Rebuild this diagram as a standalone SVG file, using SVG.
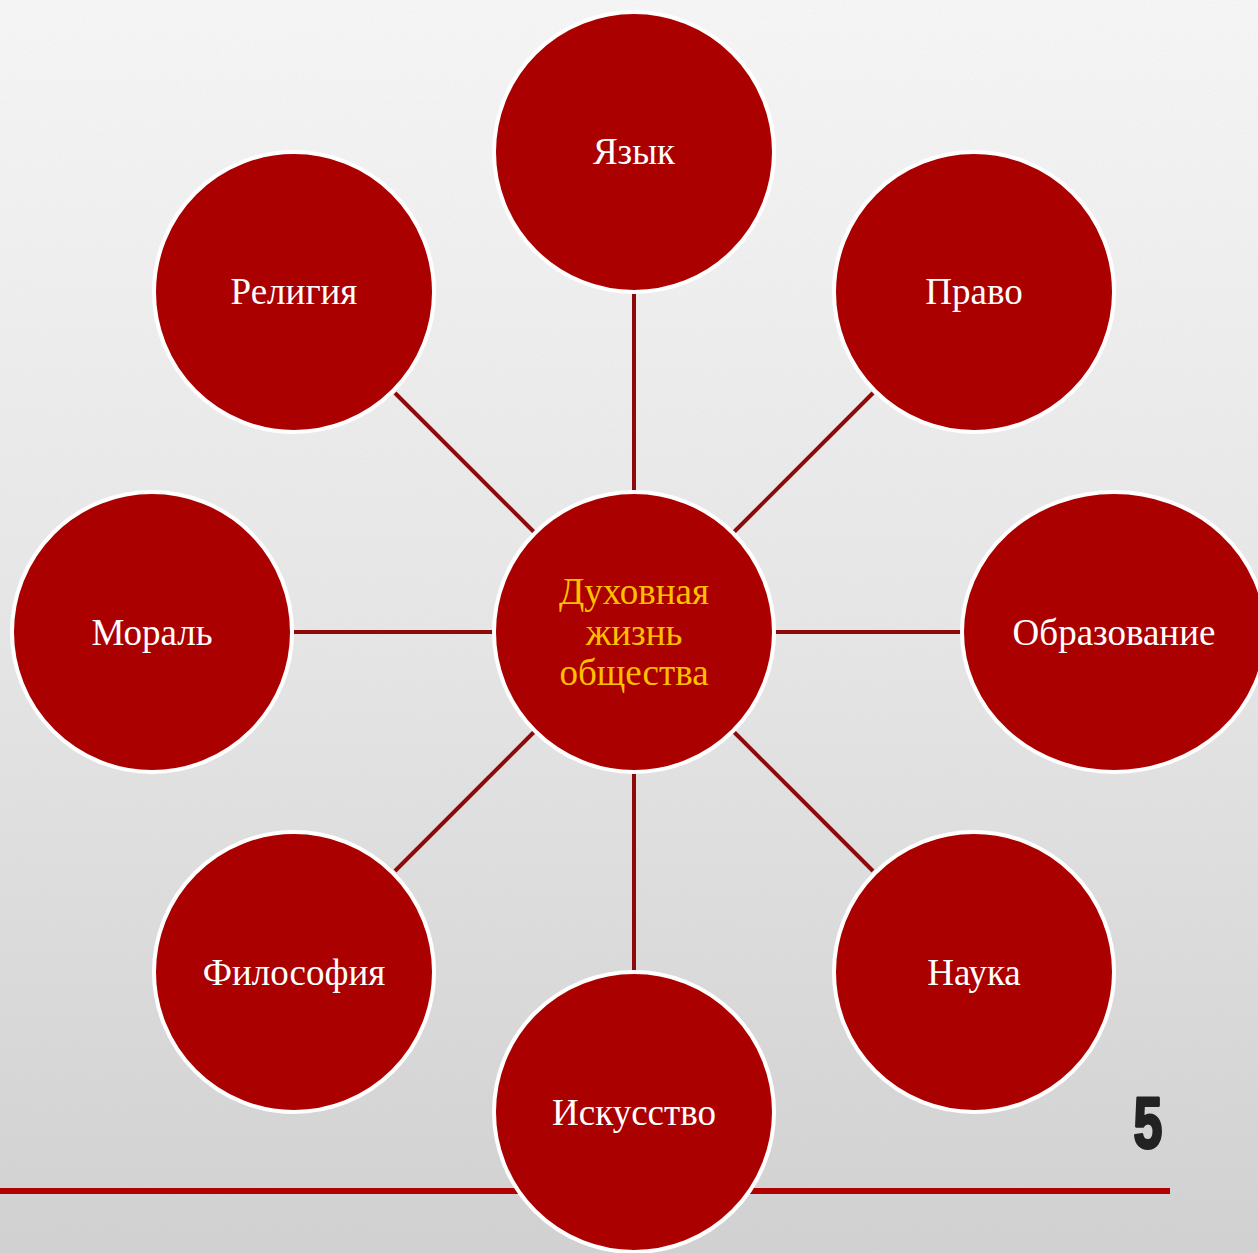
<svg xmlns="http://www.w3.org/2000/svg" width="1258" height="1253" viewBox="0 0 1258 1253">
  <style>
    .node circle, .node ellipse { fill: #AA0000; stroke: #FFFFFF; stroke-width: 4; }
    .node text { font-family: "Liberation Serif", "Times New Roman", serif; font-size: 37px; fill: #FFFFFF; text-anchor: middle; }
    .center text { fill: #FFC000; }
    .conn line { stroke: #8E0A0A; stroke-width: 4; }
  </style>
  <defs>
    <linearGradient id="bg" x1="0" y1="0" x2="0" y2="1">
      <stop offset="0" stop-color="#F8F8F8"/>
      <stop offset="0.5" stop-color="#E8E8E8"/>
      <stop offset="1" stop-color="#D2D2D2"/>
    </linearGradient>
    <filter id="noise" x="0" y="0" width="100%" height="100%">
      <feTurbulence type="fractalNoise" baseFrequency="0.6" numOctaves="2" seed="3"/>
      <feColorMatrix type="matrix" values="0 0 0 0 0.5  0 0 0 0 0.5  0 0 0 0 0.5  0 0 0 0.12 0"/>
    </filter>
  </defs>
  <rect width="1258" height="1253" fill="url(#bg)"/>
  <rect width="1258" height="1253" filter="url(#noise)"/>

  <rect x="0" y="1188" width="1170" height="6" fill="#B00000"/>
  <text x="1148" y="1148" transform="translate(1148 0) scale(0.72 1) translate(-1148 0)" font-family="Liberation Sans, Arial, sans-serif" font-weight="bold" font-size="72" fill="#222222" stroke="#222222" stroke-width="3" stroke-linejoin="round" text-anchor="middle">5</text>

  <g id="connectors" class="conn">
    <line x1="634" y1="292" x2="634" y2="491"/>
    <line x1="634" y1="773" x2="634" y2="972"/>
    <line x1="294" y1="632" x2="493" y2="632"/>
    <line x1="775" y1="632" x2="962" y2="632"/>
    <line x1="395" y1="393" x2="534" y2="532"/>
    <line x1="873" y1="393" x2="734" y2="532"/>
    <line x1="395" y1="871" x2="534" y2="732"/>
    <line x1="873" y1="871" x2="734" y2="732"/>
  </g>

  <g id="node-center" class="node center">
    <circle cx="634" cy="632" r="140"/>
    <text x="634" y="604">Духовная</text>
    <text x="634" y="645">жизнь</text>
    <text x="634" y="685">общества</text>
  </g>
  <g id="node-yazyk" class="node">
    <circle cx="634" cy="152" r="140"/>
    <text x="634" y="164">Язык</text>
  </g>
  <g id="node-pravo" class="node">
    <circle cx="974" cy="292" r="140"/>
    <text x="974" y="304">Право</text>
  </g>
  <g id="node-obrazovanie" class="node">
    <ellipse cx="1114" cy="632" rx="152" ry="140"/>
    <text x="1114" y="645">Образование</text>
  </g>
  <g id="node-nauka" class="node">
    <circle cx="974" cy="972" r="140"/>
    <text x="974" y="985">Наука</text>
  </g>
  <g id="node-iskusstvo" class="node">
    <circle cx="634" cy="1112" r="140"/>
    <text x="634" y="1125">Искусство</text>
  </g>
  <g id="node-filosofiya" class="node">
    <circle cx="294" cy="972" r="140"/>
    <text x="294" y="985">Философия</text>
  </g>
  <g id="node-moral" class="node">
    <circle cx="152" cy="632" r="140"/>
    <text x="152" y="645">Мораль</text>
  </g>
  <g id="node-religiya" class="node">
    <circle cx="294" cy="292" r="140"/>
    <text x="294" y="304">Религия</text>
  </g>
</svg>
